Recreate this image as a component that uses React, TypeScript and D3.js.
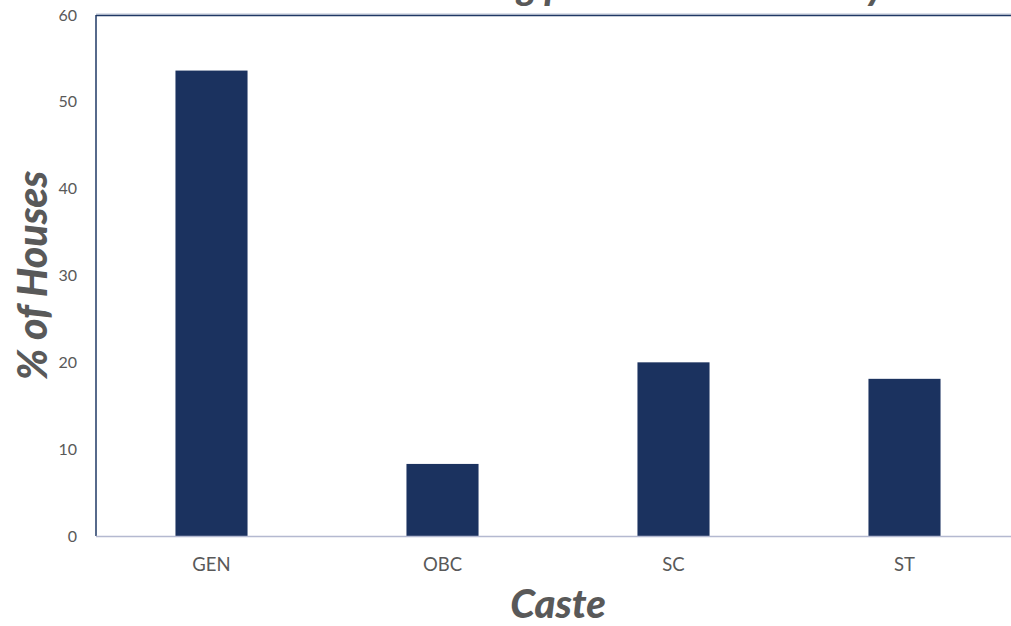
import React from "react";
import * as d3 from "d3";

const categories = ["GEN", "OBC", "SC", "ST"];
const values = [53.6, 8.3, 20.0, 18.1];
const yTicks = [0, 10, 20, 30, 40, 50, 60];
const titleText = "Caste wise housing pattern in the society";
const xTitle = "Caste";
const yTitle = "% of Houses";

const W = 1011;
const H = 626;
const left = 96;
const right = 1020;
const top = 15;
const bottom = 536;

export default function App() {
  const x = d3.scaleBand<string>().domain(categories).range([left, right]).paddingInner(0.688).paddingOuter(0.344);
  const y = d3.scaleLinear().domain([0, 60]).range([bottom, top]);
  const font = "Lato, 'Open Sans', sans-serif";
  return (
    <svg width={W} height={H} style={{ position: "absolute", left: 0, top: 0, background: "#fff" }}>
      <text x={(left + right) / 2} y={0} textAnchor="middle" fontFamily={font} fontWeight={900} fontStyle="italic" fontSize={38} fill="#595959">{titleText}</text>
      {categories.map((c, i) => (
        <rect key={c} x={x(c)} y={y(values[i])} width={x.bandwidth()} height={y(0) - y(values[i])} fill="#1b325f" />
      ))}
      <line x1={left} x2={right} y1={top - 1} y2={top - 1} stroke="#b8c0d4" strokeWidth={1} />
      <line x1={left} x2={right} y1={top + 0.5} y2={top + 0.5} stroke="#1f3864" strokeWidth={1.5} />
      <line x1={left} x2={left} y1={top} y2={bottom} stroke="#1f3864" strokeWidth={1.5} />
      <line x1={left} x2={right} y1={bottom + 0.5} y2={bottom + 0.5} stroke="#b4b9d0" strokeWidth={1.5} />
      {yTicks.map((t) => (
        <text key={t} x={77} y={y(t) + 5.5} textAnchor="end" fontFamily={font} fontSize={16} fill="#595959">{t}</text>
      ))}
      {categories.map((c) => (
        <text key={c} x={(x(c) as number) + x.bandwidth() / 2} y={571} textAnchor="middle" fontFamily={font} fontSize={18.5} fill="#595959">{c}</text>
      ))}
      <text x={(left + right) / 2} y={618} textAnchor="middle" fontFamily={font} fontWeight={900} fontStyle="italic" fontSize={40} fill="#595959">{xTitle}</text>
      <text transform={`translate(47, ${(top + bottom) / 2}) rotate(-90)`} textAnchor="middle" fontFamily={font} fontWeight={900} fontStyle="italic" fontSize={41} fill="#595959">{yTitle}</text>
    </svg>
  );
}
